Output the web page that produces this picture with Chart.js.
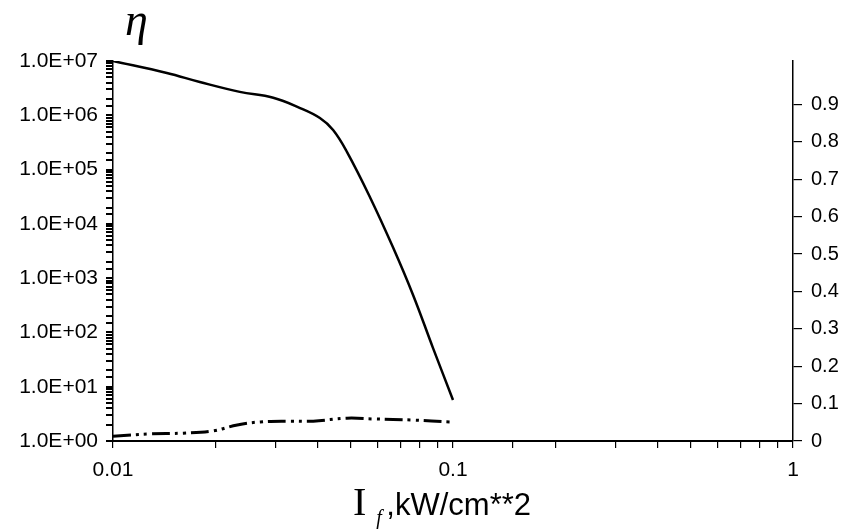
<!DOCTYPE html>
<html>
<head>
<meta charset="utf-8">
<script src="https://cdn.jsdelivr.net/npm/chart.js@4/dist/chart.umd.min.js"></script>
<style>
  body { margin: 0; background: #fff; }
</style>
</head>
<body>
<script>
// intensity I_f (kW/cm**2) and eta
let etaX = [0.01, 0.0144, 0.018, 0.0236, 0.0296, 0.0355, 0.0406, 0.0444, 0.0488, 0.057, 0.0666, 0.0763, 0.0873, 0.1];
let etaY = [1.0e7, 6.0e6, 4.1e6, 2.7e6, 2.1e6, 1.36e6, 8.9e5, 5.35e5, 2.1e5, 3.1e4, 3.7e3, 4.9e2, 52, 5.7];

// second curve (dash-dot), read against the right axis
let effX = [0.01, 0.0129, 0.0161, 0.0197, 0.0232, 0.0271, 0.0332, 0.0388, 0.0488, 0.0582, 0.0763, 0.098];
let effY = [0.013, 0.019, 0.021, 0.027, 0.043, 0.051, 0.053, 0.053, 0.061, 0.059, 0.056, 0.051];

let xTickLabels = ["0.01", "0.1", "1"];
let yTickLabels = ["1.0E+00", "1.0E+01", "1.0E+02", "1.0E+03", "1.0E+04", "1.0E+05", "1.0E+06", "1.0E+07"];
let y2TickLabels = ["0", "0.1", "0.2", "0.3", "0.4", "0.5", "0.6", "0.7", "0.8", "0.9", "1"];

Chart.defaults.font.family = "'Liberation Sans', Arial, sans-serif";
Chart.defaults.color = "#000";

let canvas = document.createElement("canvas");
canvas.width = 849;
canvas.height = 529;
document.body.appendChild(canvas);

const decade = (v) => {
  let e = Math.log10(v);
  return Math.abs(e - Math.round(e)) < 1e-6 ? Math.round(e) : null;
};

// axis title and the eta mark at the top left
const textPlugin = {
  id: "texts",
  afterDraw(chart) {
    let ctx = chart.ctx;
    let a = chart.chartArea;
    ctx.save();
    ctx.fillStyle = "#000";
    ctx.textBaseline = "alphabetic";
    ctx.font = "italic 46px 'Liberation Serif', serif";
    ctx.fillText("η", a.left + 12, a.top - 26);

    let x0 = a.left + 0.353 * (a.right - a.left);
    let base = 515;
    ctx.font = "40px 'Liberation Serif', serif";
    ctx.fillText("I", x0, base);
    let w = ctx.measureText("I").width;
    ctx.font = "italic 20px 'Liberation Serif', serif";
    ctx.fillText("f", x0 + w + 10, base + 9);
    ctx.font = "31px 'Liberation Sans', Arial, sans-serif";
    ctx.fillText(",kW/cm**2", x0 + w + 20, base);
    ctx.restore();
  },
};

let chart = new Chart(canvas, {
  type: "line",
  data: {
    datasets: [
      {
        label: "eta",
        data: etaX.map((x, i) => ({ x: x, y: etaY[i] })),
        yAxisID: "y",
        borderColor: "#000",
        borderWidth: 2.5,
        pointRadius: 0,
        tension: 0.4,
      },
      {
        label: "second",
        data: effX.map((x, i) => ({ x: x, y: effY[i] })),
        yAxisID: "y2",
        borderColor: "#000",
        borderWidth: 3,
        borderDash: [18, 5, 3, 5, 3, 5],
        pointRadius: 0,
        tension: 0.4,
      },
    ],
  },
  options: {
    responsive: false,
    animation: false,
    layout: { padding: { top: 61, left: 0, right: 0, bottom: 0 } },
    plugins: {
      legend: { display: false },
      tooltip: { enabled: false },
    },
    scales: {
      x: {
        type: "logarithmic",
        position: "bottom",
        min: 0.01,
        max: 1,
        afterFit: (s) => { s.height = 88; },
        grid: { drawOnChartArea: false, tickLength: 7, color: "#000", lineWidth: 1.2 },
        border: { color: "#000", width: 2 },
        ticks: {
          autoSkip: false,
          maxRotation: 0,
          padding: 10,
          font: { size: 21 },
          callback: (v) => {
            let e = decade(v);
            return e === null ? "" : xTickLabels[e + 2];
          },
        },
      },
      y: {
        type: "logarithmic",
        position: "left",
        min: 1,
        max: 1e7,
        afterFit: (s) => { s.width = 113; },
        grid: { drawOnChartArea: false, tickLength: 7, color: "#000", lineWidth: 2 },
        border: { color: "#000", width: 1.5 },
        ticks: {
          autoSkip: false,
          padding: 8,
          font: { size: 21 },
          callback: (v) => {
            let e = decade(v);
            return e === null ? "" : yTickLabels[e];
          },
        },
      },
      y2: {
        type: "linear",
        position: "right",
        min: 0,
        max: 1.016,
        afterFit: (s) => { s.width = 56; },
        afterBuildTicks: (s) => {
          s.ticks = s.ticks.filter((t) => Math.abs(t.value * 10 - Math.round(t.value * 10)) < 1e-6);
        },
        grid: { drawOnChartArea: false, tickLength: 9, color: "#000", lineWidth: 1.2 },
        border: { color: "#000", width: 1.5 },
        ticks: {
          stepSize: 0.1,
          autoSkip: false,
          padding: 9,
          font: { size: 20 },
          callback: (v) => y2TickLabels[Math.round(v * 10)],
        },
      },
    },
  },
  plugins: [textPlugin],
});
</script>
</body>
</html>
